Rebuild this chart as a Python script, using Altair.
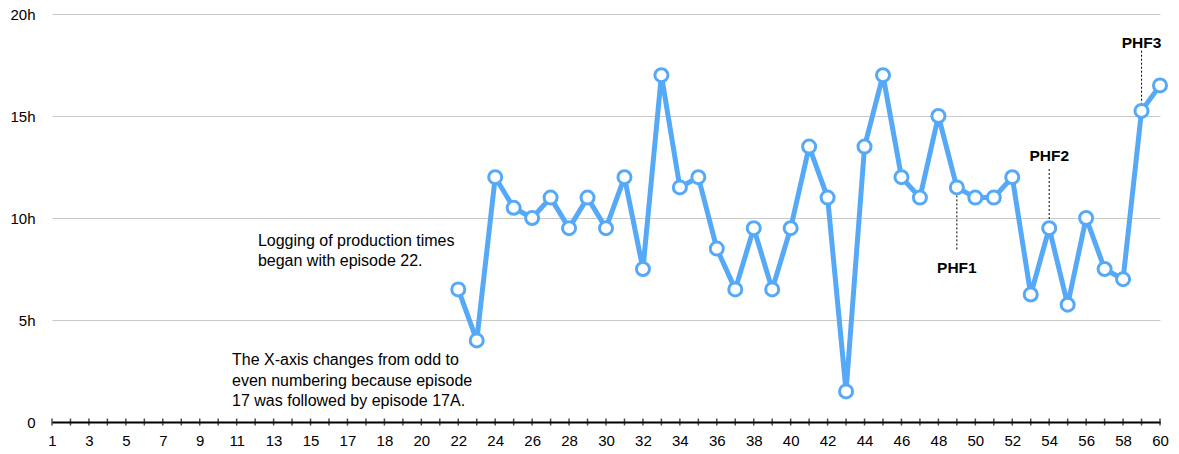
import json
import altair as alt
import pandas as pd

# Categories on the x axis (episode 17 was followed by 17A)
episodes = [str(i) for i in range(1, 18)] + ["17A"] + [str(i) for i in range(18, 61)]

# Logged production times (hours), episodes 22..60
logged_episodes = [str(i) for i in range(22, 61)]
hours = [6.5, 4.0, 12.0, 10.5, 10.0, 11.0, 9.5, 11.0, 9.5, 12.0,
         7.5, 17.0, 11.5, 12.0, 8.5, 6.5, 9.5, 6.5, 9.5, 13.5,
         11.0, 1.5, 13.5, 17.0, 12.0, 11.0, 15.0, 11.5, 11.0, 11.0,
         12.0, 6.25, 9.5, 5.75, 10.0, 7.5, 7.0, 15.25, 16.5]

# Y axis ticks
y_ticks = [0, 5, 10, 15, 20]

# PHF annotations
phf_labels = ["PHF1", "PHF2", "PHF3"]
phf_episode = ["49", "54", "59"]
phf_label_h = [7.55, 13.05, 18.6]
phf_rule_from = [11.5, 12.4, 18.2]
phf_rule_to = [8.4, 9.5, 15.25]

# Free notes (position in episode index / hours)
note_texts = ["Logging of production times\nbegan with episode 22.",
              "The X-axis changes from odd to\neven numbering because episode\n17 was followed by episode 17A."]
note_x = [11.15, 9.75]
note_y = [8.63, 2.79]

BLUE = "#55A9F7"
FONT = "Liberation Sans"

idx = {e: i for i, e in enumerate(episodes)}
df = pd.DataFrame({"episode": logged_episodes, "hours": hours})
df["i"] = df["episode"].map(idx)

ticks_df = pd.DataFrame({"episode": episodes})
ticks_df["i"] = ticks_df["episode"].map(idx)

phf_df = pd.DataFrame({"label": phf_labels, "episode": phf_episode,
                       "ly": phf_label_h, "r1": phf_rule_from, "r2": phf_rule_to})
phf_df["i"] = phf_df["episode"].map(idx)

notes_df = pd.DataFrame({"text": note_texts, "x": note_x, "y": note_y})

label_idx = [i for i in range(len(episodes)) if i % 2 == 0]
label_expr = json.dumps(episodes) + "[datum.value]"

x_scale = alt.Scale(domain=[0, len(episodes) - 1], nice=False, zero=False)
y_scale = alt.Scale(domain=[0, 20], nice=False)

x_axis = alt.Axis(values=label_idx, labelExpr=label_expr, ticks=False,
                  grid=False, domainColor="black", domainWidth=2, labelPadding=11,
                  labelFontSize=15, labelColor="black", labelFont=FONT, title=None,
                  labelOverlap=False, labelFlush=False, labelBound=False)
y_axis = alt.Axis(values=y_ticks, labelExpr="datum.value == 0 ? '0' : datum.value + 'h'",
                  ticks=False, domain=False, grid=True, gridColor="#CACACA", gridWidth=1,
                  labelPadding=17, labelFontSize=15, labelColor="black", labelFont=FONT,
                  title=None)


def X(field):
    return alt.X(field, scale=x_scale, axis=x_axis)


def Y(field):
    return alt.Y(field, scale=y_scale, axis=y_axis)


base = alt.Chart(df)

line = base.mark_line(color=BLUE, strokeWidth=5, strokeJoin="round").encode(
    x=X("i:Q"), y=Y("hours:Q"),
)
points = base.mark_point(filled=True, fill="white", stroke=BLUE, strokeWidth=3,
                         size=170, opacity=1).encode(x=X("i:Q"), y=Y("hours:Q"))

rules = alt.Chart(phf_df).mark_rule(color="black", strokeWidth=1, strokeDash=[2, 2]).encode(
    x=X("i:Q"), y=Y("r1:Q"), y2="r2:Q",
)
phf_text = alt.Chart(phf_df).mark_text(font=FONT, fontSize=15.5, fontWeight="bold",
                                       align="center", baseline="middle", color="black").encode(
    x=X("i:Q"), y=Y("ly:Q"), text="label:N",
)
notes = alt.Chart(notes_df).mark_text(font=FONT, fontSize=16, align="left",
                                      baseline="alphabetic", lineBreak="\n",
                                      lineHeight=20.5, color="black").encode(
    x=X("x:Q"), y=Y("y:Q"), text="text:N",
)
ticks = alt.Chart(ticks_df).mark_tick(orient="vertical", color="black", thickness=1.5,
                                      size=7).encode(
    x=X("i:Q"), y=alt.datum(0, scale=y_scale, axis=y_axis),
)

chart = alt.layer(rules, line, points, phf_text, notes, ticks).properties(
    width=1108, height=408,
    background="white",
    autosize=alt.AutoSizeParams(type="none"),
    padding={"left": 44, "top": 6, "right": 11, "bottom": 27},
).configure_view(stroke=None)

chart.save("out.html", embed_options={"renderer": "svg", "actions": False})
